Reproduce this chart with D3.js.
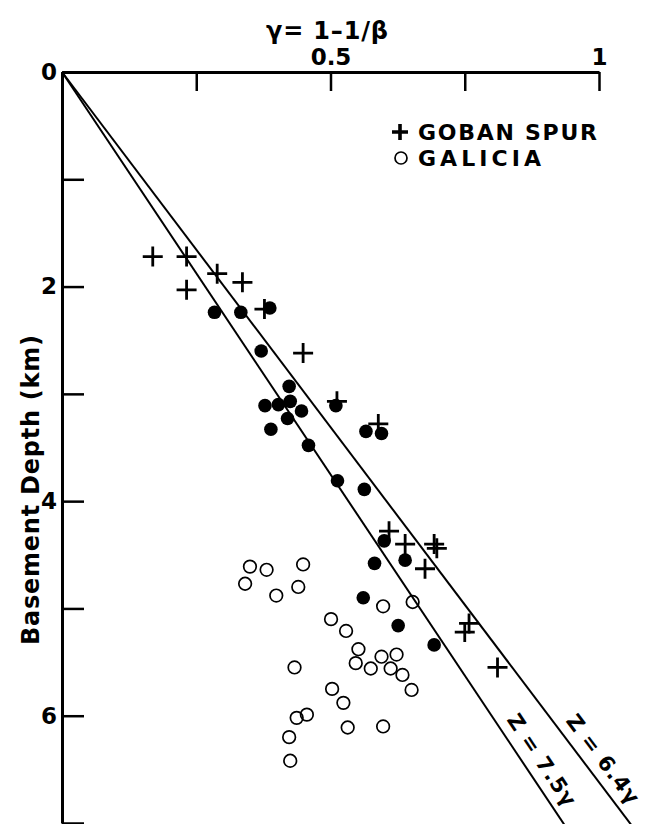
<!DOCTYPE html>
<html>
<head>
<meta charset="utf-8">
<script src="https://cdn.jsdelivr.net/npm/d3@7"></script>
<style>
  body { margin: 0; background: #fff; }
  svg { display: block; font-family: "DejaVu Sans", sans-serif; font-weight: bold; }
</style>
</head>
<body>
<script>
const width = 648;
const height = 824;

// data: [gamma, depth km]
const gobanSpur = [
  [0.169, 1.72], [0.232, 1.72], [0.289, 1.88], [0.336, 1.96], [0.232, 2.03],
  [0.377, 2.21], [0.449, 2.62], [0.512, 3.07], [0.589, 3.28], [0.609, 4.28],
  [0.639, 4.40], [0.693, 4.40], [0.698, 4.44], [0.676, 4.63], [0.758, 5.14],
  [0.750, 5.22], [0.811, 5.55]
];
const filled = [
  [0.284, 2.24], [0.333, 2.24], [0.387, 2.20], [0.371, 2.60], [0.423, 2.93],
  [0.378, 3.11], [0.403, 3.10], [0.425, 3.07], [0.446, 3.16], [0.420, 3.23],
  [0.389, 3.33], [0.459, 3.48], [0.510, 3.11], [0.566, 3.35], [0.595, 3.37],
  [0.513, 3.81], [0.563, 3.89], [0.600, 4.37], [0.639, 4.55], [0.582, 4.58],
  [0.561, 4.90], [0.626, 5.16], [0.693, 5.34]
];
const galicia = [
  [0.350, 4.61], [0.381, 4.64], [0.449, 4.59], [0.341, 4.77], [0.399, 4.88],
  [0.440, 4.80], [0.598, 4.98], [0.653, 4.94], [0.501, 5.10], [0.529, 5.21],
  [0.552, 5.38], [0.547, 5.51], [0.595, 5.45], [0.623, 5.43], [0.575, 5.56],
  [0.612, 5.56], [0.634, 5.62], [0.651, 5.76], [0.433, 5.55], [0.503, 5.75],
  [0.524, 5.88], [0.437, 6.02], [0.456, 5.99], [0.532, 6.11], [0.598, 6.10],
  [0.423, 6.20], [0.425, 6.42]
];
// fitted lines Z = k * gamma (slope as drawn in the figure)
const lineSlopes = [7.5, 6.62];
const lineLabels = ["Z = 7.5\u03b3", "Z = 6.4\u03b3"];
const xTicks = [0, 0.25, 0.5, 0.75, 1];
const xTickLabels = { 0.5: "0.5", 1: "1" };
const yTicks = [0, 1, 2, 3, 4, 5, 6, 7];
const yTickLabels = { 0: "0", 2: "2", 4: "4", 6: "6" };

const svg = d3.select("body").append("svg")
    .attr("width", width)
    .attr("height", height);

const x = d3.scaleLinear().domain([0, 1]).range([62, 599]);
const y = d3.scaleLinear().domain([0, 7]).range([72, 823]);

// fitted lines
lineSlopes.forEach(function(k, i) {
  const gEnd = 7.2 / k;
  svg.append("line")
      .attr("x1", x(0)).attr("y1", y(0))
      .attr("x2", x(gEnd)).attr("y2", y(7.2))
      .attr("stroke", "#000")
      .attr("stroke-width", 2);

  const zMid = 6.5;
  const px = x(zMid / k), py = y(zMid);
  const a = Math.atan2(y(7) - y(0), x(7 / k) - x(0));
  const d = 17;
  svg.append("text")
      .attr("transform", `translate(${px + d * Math.sin(a)},${py - d * Math.cos(a)}) rotate(${a * 180 / Math.PI})`)
      .attr("text-anchor", "middle")
      .attr("dominant-baseline", "central")
      .attr("font-size", 21)
      .attr("textLength", 106)
      .attr("lengthAdjust", "spacing")
      .text(lineLabels[i]);
});

// axes
const xAxis = d3.axisTop(x)
    .tickValues(xTicks)
    .tickSizeInner(-19)
    .tickSizeOuter(0)
    .tickPadding(7)
    .tickFormat(d => xTickLabels[d] || "");
const yAxis = d3.axisLeft(y)
    .tickValues(yTicks)
    .tickSizeInner(-22)
    .tickSizeOuter(0)
    .tickPadding(5)
    .tickFormat(d => yTickLabels[d] || "");

const gx = svg.append("g").attr("transform", `translate(0,${y(0)})`).call(xAxis);
const gy = svg.append("g").attr("transform", `translate(${x(0)},0)`).call(yAxis);
[gx, gy].forEach(function(g) {
  g.attr("font-family", null).attr("font-size", null);
  g.select(".domain").attr("stroke-width", 3);
  g.selectAll(".tick line").attr("stroke-width", 2.5);
  g.selectAll(".tick text")
      .attr("font-size", 23)
      .attr("fill", "#000");
});

// axis titles
svg.append("text")
    .attr("x", 327)
    .attr("y", 39)
    .attr("text-anchor", "middle")
    .attr("font-size", 24)
    .attr("textLength", 122)
    .attr("lengthAdjust", "spacing")
    .text("\u03b3= 1\u20131/\u03b2");

svg.append("text")
    .attr("transform", "translate(39,490) rotate(-90)")
    .attr("text-anchor", "middle")
    .attr("font-size", 24)
    .attr("textLength", 310)
    .attr("lengthAdjust", "spacing")
    .text("Basement Depth (km)");

// points
svg.append("g").selectAll("circle")
  .data(galicia)
  .join("circle")
    .attr("cx", d => x(d[0]))
    .attr("cy", d => y(d[1]))
    .attr("r", 6.3)
    .attr("fill", "none")
    .attr("stroke", "#000")
    .attr("stroke-width", 1.7);

svg.append("g").selectAll("circle")
  .data(filled)
  .join("circle")
    .attr("cx", d => x(d[0]))
    .attr("cy", d => y(d[1]))
    .attr("r", 6.8)
    .attr("fill", "#000");

const cross = "M-10,0H10M0,-10V10";
svg.append("g").selectAll("path")
  .data(gobanSpur)
  .join("path")
    .attr("transform", d => `translate(${x(d[0])},${y(d[1])})`)
    .attr("d", cross)
    .attr("stroke", "#000")
    .attr("stroke-width", 2.8)
    .attr("fill", "none");

// legend
const legend = svg.append("g");
legend.append("path")
    .attr("transform", "translate(400,132)")
    .attr("d", "M-8,0H8M0,-8V8")
    .attr("stroke", "#000")
    .attr("stroke-width", 3.6);
legend.append("text")
    .attr("x", 418).attr("y", 140)
    .attr("font-size", 22)
    .attr("textLength", 179)
    .attr("lengthAdjust", "spacing")
    .text("GOBAN  SPUR");
legend.append("circle")
    .attr("cx", 401).attr("cy", 158)
    .attr("r", 6)
    .attr("fill", "none")
    .attr("stroke", "#000")
    .attr("stroke-width", 1.7);
legend.append("text")
    .attr("x", 418).attr("y", 166)
    .attr("font-size", 22)
    .attr("textLength", 123)
    .attr("lengthAdjust", "spacing")
    .text("GALICIA");
</script>
</body>
</html>
